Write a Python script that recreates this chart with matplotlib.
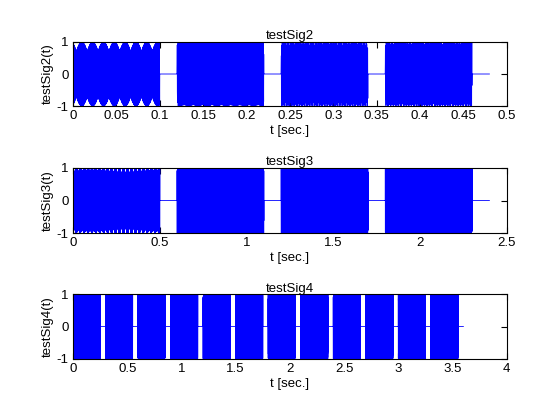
import numpy as np
import matplotlib
matplotlib.use('Agg')
import matplotlib.pyplot as plt

plt.rcParams['font.family'] = ['Liberation Sans', 'DejaVu Sans']
plt.rcParams['font.size'] = 9.5
plt.rcParams['path.simplify'] = False

# Sample rate of the test signals (Hz)
fs = 8000

# Burst layout: start times, burst length, total length (sec.)
# and the tone frequency (Hz) of each burst
sig2_starts = [0.0, 0.12, 0.24, 0.36]
sig2_len = 0.1
sig2_total = 0.48
sig2_freqs = [2020, 2173.3, 2841.7, 2237.9]

sig3_starts = [0.0, 0.6, 1.2, 1.8]
sig3_len = 0.5
sig3_total = 2.4
sig3_freqs = [2011, 1131.4, 1385.6, 1789.3]

sig4_starts = [0.0, 0.3, 0.6, 0.9, 1.2, 1.5, 1.8, 2.1, 2.4, 2.7, 3.0, 3.3]
sig4_len = 0.25
sig4_total = 3.6
sig4_freqs = [1131.4, 1385.6, 1789.3, 1913.7, 1131.4, 1385.6,
              1789.3, 1913.7, 1131.4, 1385.6, 1789.3, 1913.7]

titles = ['testSig2', 'testSig3', 'testSig4']
ylabels = ['testSig2(t)', 'testSig3(t)', 'testSig4(t)']
xlims = [(0, 0.5), (0, 2.5), (0, 4)]
xticks = [[0, 0.05, 0.1, 0.15, 0.2, 0.25, 0.3, 0.35, 0.4, 0.45, 0.5],
          [0, 0.5, 1, 1.5, 2, 2.5],
          [0, 0.5, 1, 1.5, 2, 2.5, 3, 3.5, 4]]
xticklabels = [['0', '0.05', '0.1', '0.15', '0.2', '0.25', '0.3', '0.35', '0.4', '0.45', '0.5'],
               ['0', '0.5', '1', '1.5', '2', '2.5'],
               ['0', '0.5', '1', '1.5', '2', '2.5', '3', '3.5', '4']]


def build(starts, length, total, freqs):
    t = np.arange(int(round(total * fs)) + 1) / fs
    x = np.zeros_like(t)
    for s, f in zip(starts, freqs):
        m = (t >= s) & (t < s + length)
        x[m] = np.sin(2 * np.pi * f * (t[m] - s) + 0.3)
    return t, x


signals = [build(sig2_starts, sig2_len, sig2_total, sig2_freqs),
           build(sig3_starts, sig3_len, sig3_total, sig3_freqs),
           build(sig4_starts, sig4_len, sig4_total, sig4_freqs)]

fig = plt.figure(figsize=(5.6, 4.2), dpi=100)
positions = [[0.1304, 0.7476, 0.7745, 0.1524],
             [0.1304, 0.4452, 0.7745, 0.1548],
             [0.1304, 0.1460, 0.7745, 0.1530]]

for i in range(3):
    ax = fig.add_axes(positions[i])
    t, x = signals[i]
    ax.plot(t, x, color='#0000ff', linewidth=0.6)
    ax.set_xlim(*xlims[i])
    ax.set_ylim(-1, 1)
    ax.set_xticks(xticks[i])
    ax.set_xticklabels(xticklabels[i])
    ax.set_yticks([-1, 0, 1])
    ax.set_yticklabels(['-1', '0', '1'])
    ax.tick_params(direction='in', top=True, right=True, length=4, width=0.8, pad=3)
    for sp in ax.spines.values():
        sp.set_linewidth(0.8)
    ax.set_title(titles[i], fontsize=9.5, pad=2)
    ax.set_ylabel(ylabels[i], labelpad=2)
    ax.set_xlabel('t [sec.]', labelpad=2)

fig.savefig('out.png', dpi=100)
